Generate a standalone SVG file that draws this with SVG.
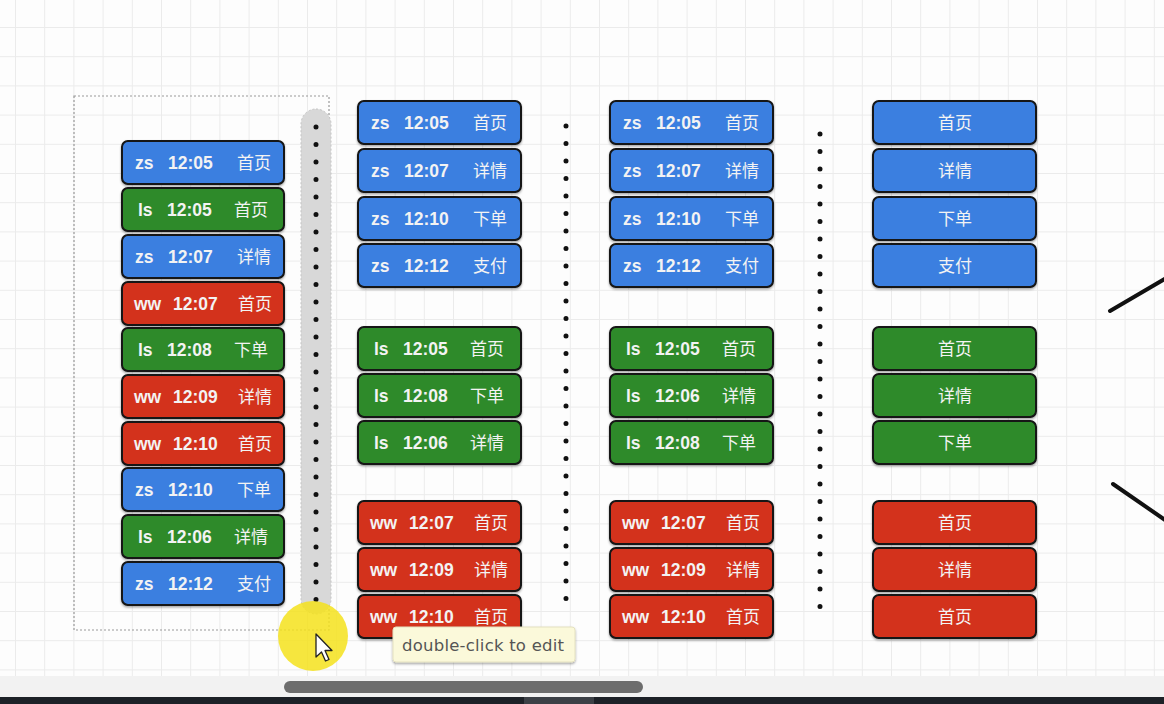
<svg xmlns="http://www.w3.org/2000/svg" width="1164" height="704" viewBox="0 0 1164 704">
<defs>
<pattern id="grid" x="15" y="27" width="29.2" height="29.2" patternUnits="userSpaceOnUse">
<path d="M0.5 0 V29.2 M0 0.5 H29.2" stroke="#ebebeb" stroke-width="1" fill="none"/>
</pattern>
<filter id="sh" x="-10%" y="-10%" width="120%" height="140%">
<feDropShadow dx="0" dy="1.5" stdDeviation="1" flood-color="#000" flood-opacity="0.35"/>
</filter>
</defs>
<style>
.b{fill:#3b7fe0}.g{fill:#2f8a2b}.r{fill:#d3321f}
.box{stroke:#121212;stroke-width:2}
.t{font-family:"Liberation Sans","Noto Sans CJK SC",sans-serif;font-size:17.5px;font-weight:bold;fill:#f3f3f3}
.c{font-family:"Noto Sans CJK SC",sans-serif;font-size:17px;font-weight:normal;fill:#f3f3f3}
.dots{stroke:#111;stroke-width:5;stroke-linecap:round;stroke-dasharray:0 17.5;fill:none}
</style>
<rect width="1164" height="704" fill="#fdfdfd"/>
<rect width="1164" height="676" fill="url(#grid)"/>

<rect x="74" y="96" width="255" height="534" fill="none" stroke="#9a9a9a" stroke-width="1.2" stroke-dasharray="2 2"/>
<rect x="301" y="109" width="30" height="505" rx="15" fill="#d8d8d8" stroke="#c4c4c4" stroke-width="1" stroke-dasharray="2 2"/>

<g id="connectors">
<line class="dots" x1="316" y1="127" x2="316" y2="600"/>
<line class="dots" x1="566" y1="126" x2="566" y2="600"/>
<line class="dots" x1="820" y1="134" x2="820" y2="607"/>
<line x1="1110" y1="311" x2="1168" y2="277" stroke="#111" stroke-width="4" stroke-linecap="round"/>
<line x1="1113" y1="484" x2="1168" y2="522" stroke="#111" stroke-width="4" stroke-linecap="round"/>
</g>

<!-- Column 1 -->
<g id="a1" transform="translate(122,141)"><rect class="box b" width="162" height="43" rx="6" filter="url(#sh)"/><text class="t" x="13" y="28">zs</text><text class="t" x="46" y="28">12:05</text><text class="c" x="115" y="28">首页</text></g>
<g id="a2" transform="translate(122,188)"><rect class="box g" width="162" height="43" rx="6" filter="url(#sh)"/><text class="t" x="16" y="28">ls</text><text class="t" x="45" y="28">12:05</text><text class="c" x="112" y="28">首页</text></g>
<g id="a3" transform="translate(122,235)"><rect class="box b" width="162" height="43" rx="6" filter="url(#sh)"/><text class="t" x="13" y="28">zs</text><text class="t" x="46" y="28">12:07</text><text class="c" x="115" y="28">详情</text></g>
<g id="a4" transform="translate(122,282)"><rect class="box r" width="162" height="43" rx="6" filter="url(#sh)"/><text class="t" x="12" y="28">ww</text><text class="t" x="51" y="28">12:07</text><text class="c" x="116" y="28">首页</text></g>
<g id="a5" transform="translate(122,328)"><rect class="box g" width="162" height="43" rx="6" filter="url(#sh)"/><text class="t" x="16" y="28">ls</text><text class="t" x="45" y="28">12:08</text><text class="c" x="112" y="28">下单</text></g>
<g id="a6" transform="translate(122,375)"><rect class="box r" width="162" height="43" rx="6" filter="url(#sh)"/><text class="t" x="12" y="28">ww</text><text class="t" x="51" y="28">12:09</text><text class="c" x="116" y="28">详情</text></g>
<g id="a7" transform="translate(122,422)"><rect class="box r" width="162" height="43" rx="6" filter="url(#sh)"/><text class="t" x="12" y="28">ww</text><text class="t" x="51" y="28">12:10</text><text class="c" x="116" y="28">首页</text></g>
<g id="a8" transform="translate(122,468)"><rect class="box b" width="162" height="43" rx="6" filter="url(#sh)"/><text class="t" x="13" y="28">zs</text><text class="t" x="46" y="28">12:10</text><text class="c" x="115" y="28">下单</text></g>
<g id="a9" transform="translate(122,515)"><rect class="box g" width="162" height="43" rx="6" filter="url(#sh)"/><text class="t" x="16" y="28">ls</text><text class="t" x="45" y="28">12:06</text><text class="c" x="112" y="28">详情</text></g>
<g id="a10" transform="translate(122,562)"><rect class="box b" width="162" height="43" rx="6" filter="url(#sh)"/><text class="t" x="13" y="28">zs</text><text class="t" x="46" y="28">12:12</text><text class="c" x="115" y="28">支付</text></g>

<!-- Column 2 -->
<g id="b1" transform="translate(358,101)"><rect class="box b" width="163" height="43" rx="6" filter="url(#sh)"/><text class="t" x="13" y="28">zs</text><text class="t" x="46" y="28">12:05</text><text class="c" x="115" y="28">首页</text></g>
<g id="b2" transform="translate(358,149)"><rect class="box b" width="163" height="43" rx="6" filter="url(#sh)"/><text class="t" x="13" y="28">zs</text><text class="t" x="46" y="28">12:07</text><text class="c" x="115" y="28">详情</text></g>
<g id="b3" transform="translate(358,197)"><rect class="box b" width="163" height="43" rx="6" filter="url(#sh)"/><text class="t" x="13" y="28">zs</text><text class="t" x="46" y="28">12:10</text><text class="c" x="115" y="28">下单</text></g>
<g id="b4" transform="translate(358,244)"><rect class="box b" width="163" height="43" rx="6" filter="url(#sh)"/><text class="t" x="13" y="28">zs</text><text class="t" x="46" y="28">12:12</text><text class="c" x="115" y="28">支付</text></g>
<g id="b5" transform="translate(358,327)"><rect class="box g" width="163" height="43" rx="6" filter="url(#sh)"/><text class="t" x="16" y="28">ls</text><text class="t" x="45" y="28">12:05</text><text class="c" x="112" y="28">首页</text></g>
<g id="b6" transform="translate(358,374)"><rect class="box g" width="163" height="43" rx="6" filter="url(#sh)"/><text class="t" x="16" y="28">ls</text><text class="t" x="45" y="28">12:08</text><text class="c" x="112" y="28">下单</text></g>
<g id="b7" transform="translate(358,421)"><rect class="box g" width="163" height="43" rx="6" filter="url(#sh)"/><text class="t" x="16" y="28">ls</text><text class="t" x="45" y="28">12:06</text><text class="c" x="112" y="28">详情</text></g>
<g id="b8" transform="translate(358,501)"><rect class="box r" width="163" height="43" rx="6" filter="url(#sh)"/><text class="t" x="12" y="28">ww</text><text class="t" x="51" y="28">12:07</text><text class="c" x="116" y="28">首页</text></g>
<g id="b9" transform="translate(358,548)"><rect class="box r" width="163" height="43" rx="6" filter="url(#sh)"/><text class="t" x="12" y="28">ww</text><text class="t" x="51" y="28">12:09</text><text class="c" x="116" y="28">详情</text></g>
<g id="b10" transform="translate(358,595)"><rect class="box r" width="163" height="43" rx="6" filter="url(#sh)"/><text class="t" x="12" y="28">ww</text><text class="t" x="51" y="28">12:10</text><text class="c" x="116" y="28">首页</text></g>

<!-- Column 3 -->
<g id="c1" transform="translate(610,101)"><rect class="box b" width="163" height="43" rx="6" filter="url(#sh)"/><text class="t" x="13" y="28">zs</text><text class="t" x="46" y="28">12:05</text><text class="c" x="115" y="28">首页</text></g>
<g id="c2" transform="translate(610,149)"><rect class="box b" width="163" height="43" rx="6" filter="url(#sh)"/><text class="t" x="13" y="28">zs</text><text class="t" x="46" y="28">12:07</text><text class="c" x="115" y="28">详情</text></g>
<g id="c3" transform="translate(610,197)"><rect class="box b" width="163" height="43" rx="6" filter="url(#sh)"/><text class="t" x="13" y="28">zs</text><text class="t" x="46" y="28">12:10</text><text class="c" x="115" y="28">下单</text></g>
<g id="c4" transform="translate(610,244)"><rect class="box b" width="163" height="43" rx="6" filter="url(#sh)"/><text class="t" x="13" y="28">zs</text><text class="t" x="46" y="28">12:12</text><text class="c" x="115" y="28">支付</text></g>
<g id="c5" transform="translate(610,327)"><rect class="box g" width="163" height="43" rx="6" filter="url(#sh)"/><text class="t" x="16" y="28">ls</text><text class="t" x="45" y="28">12:05</text><text class="c" x="112" y="28">首页</text></g>
<g id="c6" transform="translate(610,374)"><rect class="box g" width="163" height="43" rx="6" filter="url(#sh)"/><text class="t" x="16" y="28">ls</text><text class="t" x="45" y="28">12:06</text><text class="c" x="112" y="28">详情</text></g>
<g id="c7" transform="translate(610,421)"><rect class="box g" width="163" height="43" rx="6" filter="url(#sh)"/><text class="t" x="16" y="28">ls</text><text class="t" x="45" y="28">12:08</text><text class="c" x="112" y="28">下单</text></g>
<g id="c8" transform="translate(610,501)"><rect class="box r" width="163" height="43" rx="6" filter="url(#sh)"/><text class="t" x="12" y="28">ww</text><text class="t" x="51" y="28">12:07</text><text class="c" x="116" y="28">首页</text></g>
<g id="c9" transform="translate(610,548)"><rect class="box r" width="163" height="43" rx="6" filter="url(#sh)"/><text class="t" x="12" y="28">ww</text><text class="t" x="51" y="28">12:09</text><text class="c" x="116" y="28">详情</text></g>
<g id="c10" transform="translate(610,595)"><rect class="box r" width="163" height="43" rx="6" filter="url(#sh)"/><text class="t" x="12" y="28">ww</text><text class="t" x="51" y="28">12:10</text><text class="c" x="116" y="28">首页</text></g>

<!-- Column 4 -->
<g id="d1" transform="translate(873,101)"><rect class="box b" width="163" height="43" rx="6" filter="url(#sh)"/><text class="c" x="82" y="28" text-anchor="middle">首页</text></g>
<g id="d2" transform="translate(873,149)"><rect class="box b" width="163" height="43" rx="6" filter="url(#sh)"/><text class="c" x="82" y="28" text-anchor="middle">详情</text></g>
<g id="d3" transform="translate(873,197)"><rect class="box b" width="163" height="43" rx="6" filter="url(#sh)"/><text class="c" x="82" y="28" text-anchor="middle">下单</text></g>
<g id="d4" transform="translate(873,244)"><rect class="box b" width="163" height="43" rx="6" filter="url(#sh)"/><text class="c" x="82" y="28" text-anchor="middle">支付</text></g>
<g id="d5" transform="translate(873,327)"><rect class="box g" width="163" height="43" rx="6" filter="url(#sh)"/><text class="c" x="82" y="28" text-anchor="middle">首页</text></g>
<g id="d6" transform="translate(873,374)"><rect class="box g" width="163" height="43" rx="6" filter="url(#sh)"/><text class="c" x="82" y="28" text-anchor="middle">详情</text></g>
<g id="d7" transform="translate(873,421)"><rect class="box g" width="163" height="43" rx="6" filter="url(#sh)"/><text class="c" x="82" y="28" text-anchor="middle">下单</text></g>
<g id="d8" transform="translate(873,501)"><rect class="box r" width="163" height="43" rx="6" filter="url(#sh)"/><text class="c" x="82" y="28" text-anchor="middle">首页</text></g>
<g id="d9" transform="translate(873,548)"><rect class="box r" width="163" height="43" rx="6" filter="url(#sh)"/><text class="c" x="82" y="28" text-anchor="middle">详情</text></g>
<g id="d10" transform="translate(873,595)"><rect class="box r" width="163" height="43" rx="6" filter="url(#sh)"/><text class="c" x="82" y="28" text-anchor="middle">首页</text></g>

<!-- cursor highlight and tooltip -->
<circle cx="313" cy="636" r="35" fill="#f4e21c" fill-opacity="0.85"/>
<path d="M316 634 L316 657 L321.5 652 L325.5 661 L329 659.5 L325 650.5 L332 650.5 Z" fill="#fff" stroke="#222" stroke-width="1.3" stroke-linejoin="round"/>
<g id="tooltip">
<rect x="393" y="627" width="182" height="35" rx="3" fill="#fbf9da" stroke="#e4e1c0" stroke-width="1" filter="url(#sh)"/>
<text x="402" y="651" font-family="DejaVu Sans, sans-serif" font-size="16.5" fill="#555" textLength="162">double-click to edit</text>
</g>

<!-- bottom scrollbar -->
<rect x="0" y="676" width="1164" height="21" fill="#f2f2f2"/>
<rect x="284" y="681" width="359" height="12" rx="6" fill="#6d6d6d"/>
<rect x="0" y="697" width="1164" height="7" fill="#1d2127"/>
<rect x="524" y="697" width="70" height="7" fill="#3c4046"/>
</svg>
